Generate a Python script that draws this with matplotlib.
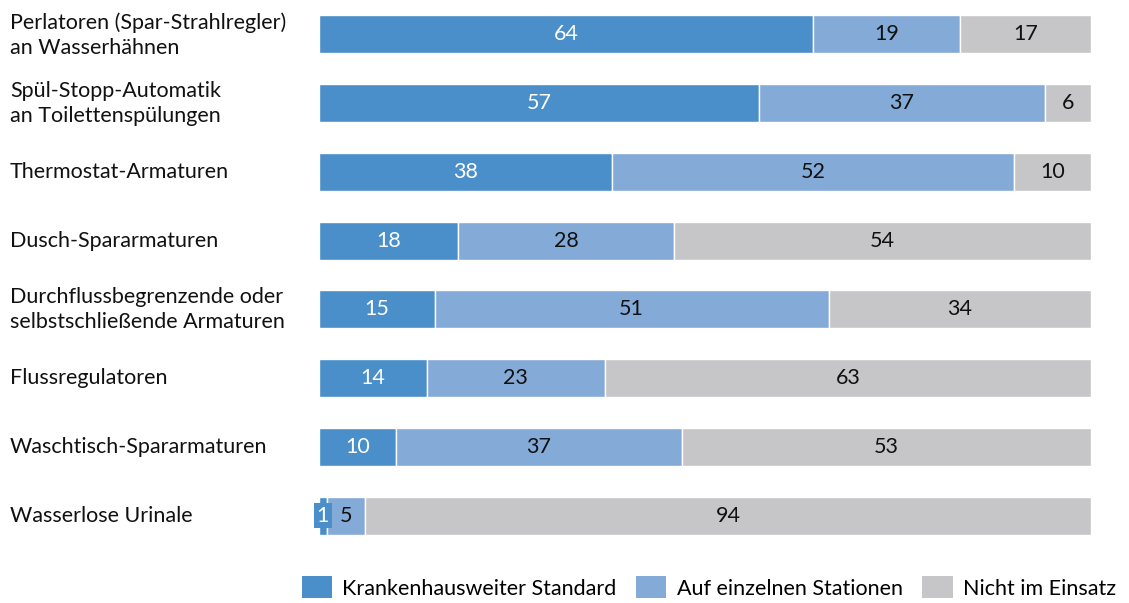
import matplotlib
matplotlib.use("Agg")
import matplotlib.pyplot as plt
from matplotlib.patches import Patch

plt.rcParams['font.family'] = ['Lato', 'DejaVu Sans']

categories = [
    "Perlatoren (Spar-Strahlregler)\nan Wasserhähnen",
    "Spül-Stopp-Automatik\nan Toilettenspülungen",
    "Thermostat-Armaturen",
    "Dusch-Spararmaturen",
    "Durchflussbegrenzende oder\nselbstschließende Armaturen",
    "Flussregulatoren",
    "Waschtisch-Spararmaturen",
    "Wasserlose Urinale",
]
standard = [64, 57, 38, 18, 15, 14, 10, 1]
stationen = [19, 37, 52, 28, 51, 23, 37, 5]
nicht = [17, 6, 10, 54, 34, 63, 53, 94]
series_names = ["Krankenhausweiter Standard", "Auf einzelnen Stationen", "Nicht im Einsatz"]
colors = ["#4a8fca", "#84aad8", "#c6c6c8"]
text_colors = ["white", "#111111", "#111111"]
FS = 15.5

fig = plt.figure(figsize=(11.29, 6.03), dpi=100)
ax = fig.add_axes([319/1129, 1-550/603, (1091-319)/1129, 550/603])

y = list(range(len(categories)))
left = [0]*len(categories)
for vals, col, tc in zip([standard, stationen, nicht], colors, text_colors):
    ax.barh(y, vals, left=left, height=0.55, color=col, edgecolor="white", linewidth=1)
    for i, v in enumerate(vals):
        cx = left[i] + v/2
        if v < 3:
            ax.text(cx, i, str(v), ha="center", va="center", color=tc, fontsize=FS,
                    bbox=dict(boxstyle="square,pad=0.12", fc=col, ec="none"))
        else:
            ax.text(cx, i, str(v), ha="center", va="center", color=tc, fontsize=FS)
    left = [l + v for l, v in zip(left, vals)]

ax.set_xlim(0, 100)
ax.set_ylim(7.5, -0.5)
ax.axis("off")

for i, c in enumerate(categories):
    fig.text(10/1129, 1-(35+i*68.7)/603, c, ha="left", va="center", fontsize=FS,
             color="#111111", linespacing=1.3)

handles = [Patch(facecolor=c, edgecolor="none") for c in colors]
fig.legend(handles, series_names, loc="lower right", bbox_to_anchor=(1.006, -0.025), ncol=3,
           frameon=False, fontsize=FS, handlelength=1.4, handleheight=1.2,
           columnspacing=0.9, handletextpad=0.5)

fig.savefig("out.png", dpi=100)
